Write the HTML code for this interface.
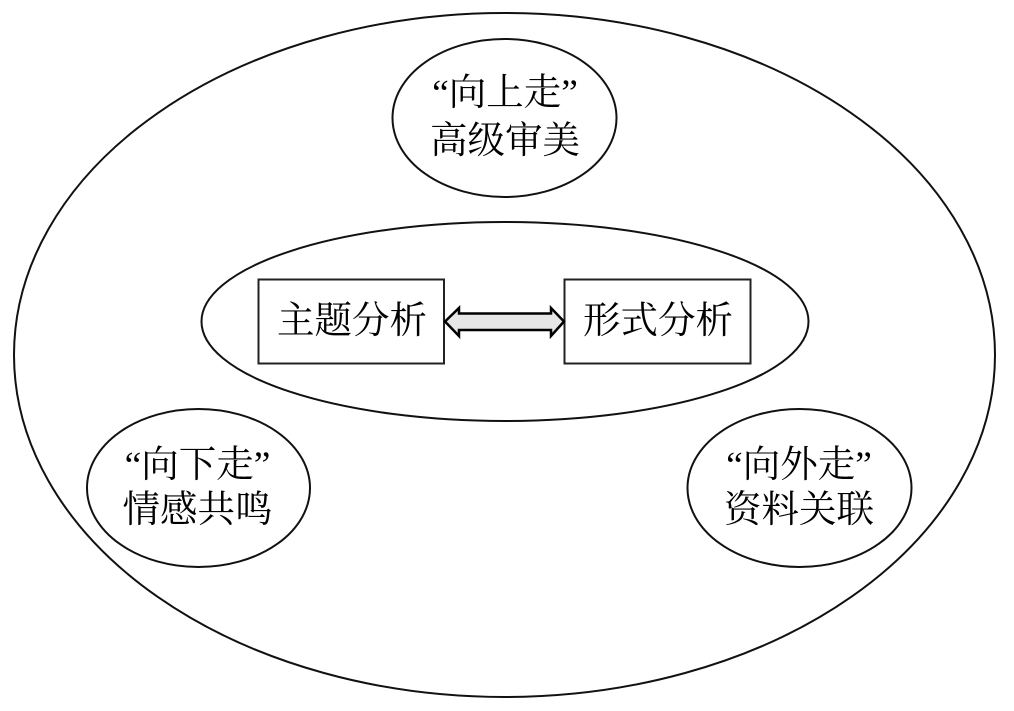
<!DOCTYPE html>
<html>
<head>
<meta charset="utf-8">
<style>
html,body{margin:0;padding:0;background:#fff;width:1014px;height:711px;overflow:hidden}
svg{display:block}
text{font-family:"Liberation Serif","Noto Serif CJK SC",serif;font-size:37.5px;fill:#000;text-anchor:middle}
</style>
</head>
<body>
<svg width="1014" height="711" viewBox="0 0 1014 711" xmlns="http://www.w3.org/2000/svg">
<rect width="1014" height="711" fill="#fff"/>
<g fill="none" stroke="#111" stroke-width="2">
<ellipse cx="504.500" cy="355" rx="490.500" ry="342"/>
<ellipse cx="505" cy="321.500" rx="303.500" ry="99.500"/>
<ellipse cx="504.500" cy="118" rx="112" ry="79"/>
<ellipse cx="198.500" cy="488" rx="111.500" ry="79"/>
<ellipse cx="799.500" cy="488" rx="112" ry="79"/>
</g>
<rect x="258.500" y="279.500" width="185.500" height="84" fill="#fff" stroke="#222" stroke-width="2"/>
<rect x="564.500" y="279.500" width="186" height="84" fill="#fff" stroke="#222" stroke-width="2"/>
<polygon points="445,321.500 459,308 459,313.500 551,313.500 551,308 564,321.500 551,336 551,330 459,330 459,336" fill="#e6e6e6" stroke="#000" stroke-width="2.500"/>
<text x="505" y="105">“向上走”</text>
<text x="505" y="153">高级审美</text>
<text x="352" y="333">主题分析</text>
<text x="658" y="333">形式分析</text>
<text x="197.500" y="477">“向下走”</text>
<text x="197.500" y="522">情感共鸣</text>
<text x="799" y="477">“向外走”</text>
<text x="799" y="522">资料关联</text>
</svg>
</body>
</html>
